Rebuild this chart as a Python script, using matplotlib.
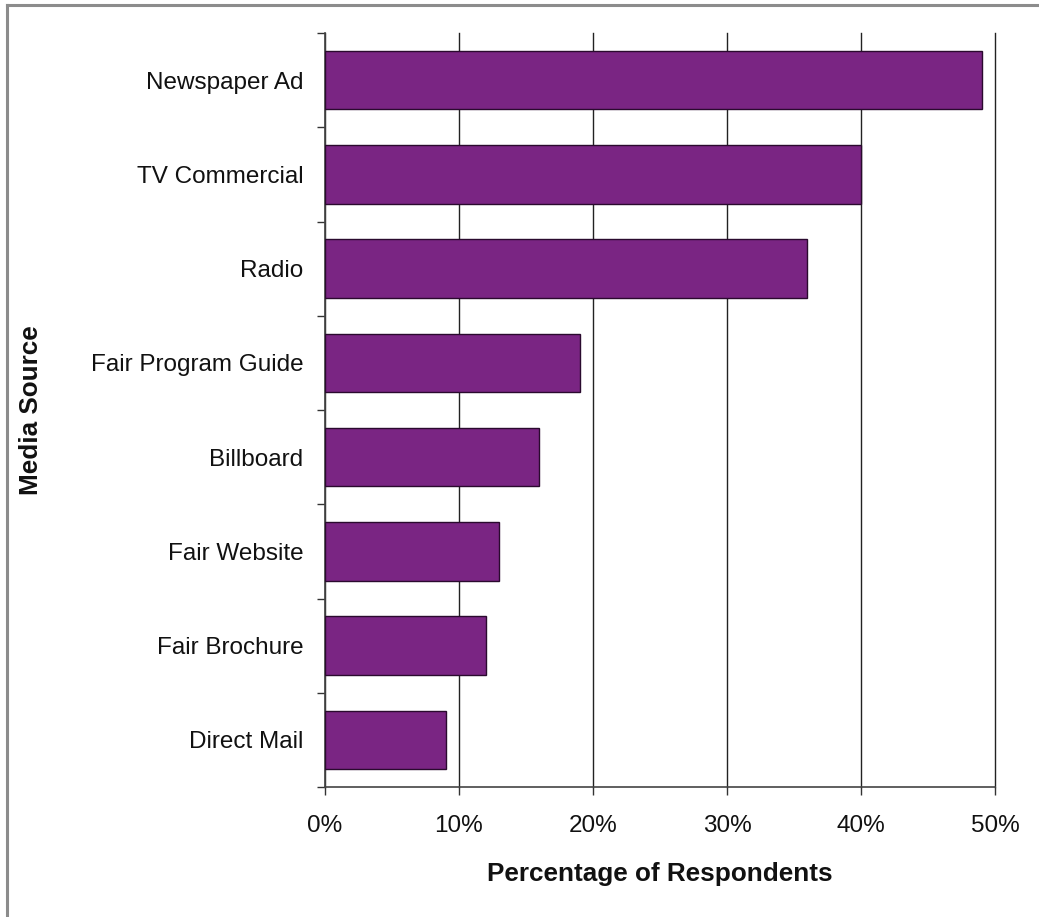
import matplotlib
matplotlib.use("Agg")
import matplotlib.pyplot as plt
from matplotlib.ticker import FixedLocator, FuncFormatter

# Survey: where respondents heard about the fair
sources = ["Newspaper Ad", "TV Commercial", "Radio", "Fair Program Guide",
           "Billboard", "Fair Website", "Fair Brochure", "Direct Mail"]
shares = [0.49, 0.40, 0.36, 0.19, 0.16, 0.13, 0.12, 0.09]
x_ticks = [0.0, 0.1, 0.2, 0.3, 0.4, 0.5]

plt.rcParams["font.family"] = ["Liberation Sans", "DejaVu Sans"]

W, H = 1039, 917
fig = plt.figure(figsize=(W / 100, H / 100), dpi=100)
fig.patch.set_facecolor("white")

# thin grey frame along the top and left edges
fig.add_artist(plt.Line2D([7 / W, 7 / W], [0, 1 - 5 / H], transform=fig.transFigure,
                          color="#8c8c8c", lw=2.2))
fig.add_artist(plt.Line2D([7 / W, 1], [1 - 5 / H, 1 - 5 / H], transform=fig.transFigure,
                          color="#8c8c8c", lw=2.2))

ax = fig.add_axes([325 / W, 1 - 787 / H, (995 - 325) / W, (787 - 33) / H])

pos = list(range(len(sources)))
ax.barh(pos, shares, height=0.62, color="#7a2583", edgecolor="#2a0a2e", linewidth=1.0,
        zorder=3)

ax.set_xlim(0, 0.5)
ax.set_ylim(len(sources) - 0.5, -0.5)

ax.set_xticks(x_ticks)
ax.xaxis.set_major_formatter(FuncFormatter(lambda v, p: f"{v * 100:.0f}%"))
ax.tick_params(axis="x", length=6, width=1, color="#333333", labelsize=17.5, pad=14,
               labelcolor="#111111")

# category ticks sit on the boundaries, labels in the middle of each band
ax.yaxis.set_major_locator(FixedLocator([p - 0.5 for p in range(len(sources) + 1)]))
ax.yaxis.set_major_formatter(FuncFormatter(lambda v, p: ""))
ax.yaxis.set_minor_locator(FixedLocator(pos))
ax.set_yticklabels(sources, minor=True)
ax.tick_params(axis="y", which="major", length=6, width=1, color="#333333")
ax.tick_params(axis="y", which="minor", length=0, labelsize=17.5, pad=15.5,
               labelcolor="#111111")

ax.grid(axis="x", color="#222222", linewidth=1.0, zorder=0)
for gl in ax.get_xgridlines():
    gl.set_clip_on(False)
for s in ("top", "right"):
    ax.spines[s].set_visible(False)
for s in ("left", "bottom"):
    ax.spines[s].set_color("#444444")
    ax.spines[s].set_linewidth(1.2)

fig.text(660 / W, 1 - 874 / H, "Percentage of Respondents", ha="center", va="center",
         fontsize=18.8, fontweight="bold", color="#111111")
fig.text(31 / W, 1 - 410 / H, "Media Source", ha="center", va="center", rotation=90,
         fontsize=18.8, fontweight="bold", color="#111111")

fig.savefig("out.png", dpi=100, facecolor="white")
